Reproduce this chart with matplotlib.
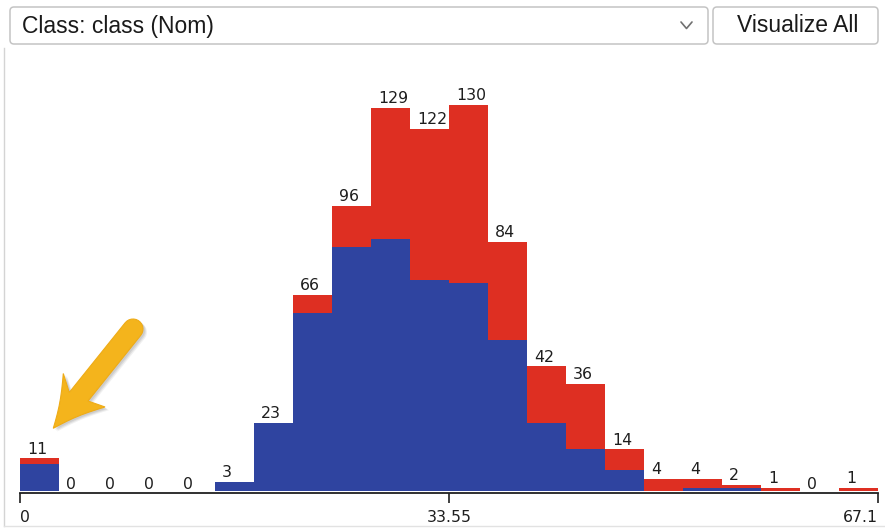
import numpy as np
import matplotlib
matplotlib.use("Agg")
import matplotlib.pyplot as plt
from matplotlib.patches import FancyBboxPatch, Polygon

# Histogram of the numeric attribute, stacked by class
bin_count = 22
x_min, x_max = 0.0, 67.1
tick_values = [0.0, 33.55, 67.1]
tick_labels = ["0", "33.55", "67.1"]

class_blue = [9, 0, 0, 0, 0, 3, 23, 60, 82, 85, 71, 70, 51, 23, 14, 7, 0, 1, 1, 0, 0, 0]
class_red = [2, 0, 0, 0, 0, 0, 0, 6, 14, 44, 51, 60, 33, 19, 22, 7, 4, 3, 1, 1, 0, 1]

BLUE = "#2f44a0"
RED = "#de2f22"
TEXT = "#1e1e1e"

W, H = 885, 528
fig = plt.figure(figsize=(W / 100, H / 100), dpi=100)
fig.patch.set_facecolor("white")

# plot area in pixels
left_px, right_px, base_px = 20, 878, 491
px_per_count = 2.97
y_top = 140
ax = fig.add_axes([left_px / W, (H - base_px) / H, (right_px - left_px) / W,
                   y_top * px_per_count / H])
ax.set_xlim(x_min, x_max)
ax.set_ylim(0, y_top)

edges = np.linspace(x_min, x_max, bin_count + 1)
width = edges[1] - edges[0]
blue = np.array(class_blue)
red = np.array(class_red)
totals = blue + red

ax.bar(edges[:-1], blue, width=width, align="edge", color=BLUE, linewidth=0)
ax.bar(edges[:-1], red, bottom=blue, width=width, align="edge", color=RED, linewidth=0)

for x0, t in zip(edges[:-1], totals):
    ax.annotate(str(t), xy=(x0, t), xytext=(5.0, 1.2 if t > 0 else -1.0),
                textcoords="offset points", ha="left", va="bottom",
                fontsize=11.3, color=TEXT, family="DejaVu Sans")

for s in ("top", "right", "left"):
    ax.spines[s].set_visible(False)
ax.spines["bottom"].set_position(("outward", 1.5))
ax.spines["bottom"].set_color("#202020")
ax.spines["bottom"].set_linewidth(1.3)
ax.set_yticks([])
ax.set_xticks(tick_values)
ax.set_xticklabels(tick_labels, fontsize=11.3, color=TEXT, family="DejaVu Sans")
ax.tick_params(axis="x", direction="out", length=7.5, width=1.2, color="#202020", pad=5)
for lbl, ha in zip(ax.get_xticklabels(), ["left", "center", "right"]):
    lbl.set_horizontalalignment(ha)
ax.patch.set_alpha(0)

# overlay in pixel units for the panel controls and the pointer arrow
ov = fig.add_axes([0, 0, 1, 1], zorder=5)
ov.set_xlim(0, W)
ov.set_ylim(H, 0)
ov.axis("off")
ov.patch.set_alpha(0)

# panel frame
ov.plot([4, 4], [48, 526], color="#d4d4d4", lw=1)
ov.plot([4, 884], [526, 526], color="#e2e2e2", lw=1)

# class selector and button
ov.add_patch(FancyBboxPatch((10, 7), 698, 37, boxstyle="round,pad=0,rounding_size=4",
                            facecolor="white", edgecolor="#c4c4c4", lw=1.1))
ov.add_patch(FancyBboxPatch((713, 7), 165, 37, boxstyle="round,pad=0,rounding_size=4",
                            facecolor="white", edgecolor="#c4c4c4", lw=1.1))
ov.text(22, 26, "Class: class (Nom)", fontsize=16.5, family="Liberation Sans",
        color="#1a1a1a", ha="left", va="center")
ov.text(798, 26, "Visualize All", fontsize=16.5, family="Liberation Sans",
        color="#1a1a1a", ha="center", va="center")
ov.plot([681, 686.5, 692], [22, 28.5, 22], color="#707070", lw=1.2, solid_capstyle="round")

# pointer arrow aimed at the first bin
tail = np.array([133.0, 329.0])
tip = np.array([53.3, 428.3])
u = (tip - tail) / np.linalg.norm(tip - tail)
n = np.array([u[1], -u[0]])
L = np.linalg.norm(tip - tail)


def pt(back, side):
    return tip - u * back + n * side


shaft = 10.0
pts = [pt(0, 0)]
for t in np.linspace(0, 1, 8)[1:]:
    pts.append(pt(49 * t, 27 * t) + n * (-2.0 * np.sin(np.pi * t)))
pts.append(pt(43, shaft))
pts.append(pt(L, shaft))
for a in np.linspace(0, np.pi, 14)[1:-1]:
    pts.append(pt(L, 0) - u * shaft * np.sin(a) + n * shaft * np.cos(a))
pts.append(pt(L, -shaft))
pts.append(pt(38, -shaft))
for t in np.linspace(1, 0, 8)[:-1]:
    pts.append(pt(49 * t, -26.5 * t) + n * (2.0 * np.sin(np.pi * t)))
pts = np.array(pts)

for off, a in ((4.0, 0.12), (3.0, 0.18), (2.0, 0.2)):
    ov.add_patch(Polygon(pts + np.array([off, off * 0.8]), closed=True,
                         facecolor="#8a8a8a", alpha=a, edgecolor="none"))
ov.add_patch(Polygon(pts, closed=True, facecolor="#f4b41c", edgecolor="#eeab16", lw=0.8))

fig.savefig("out.png", dpi=100, facecolor="white")
